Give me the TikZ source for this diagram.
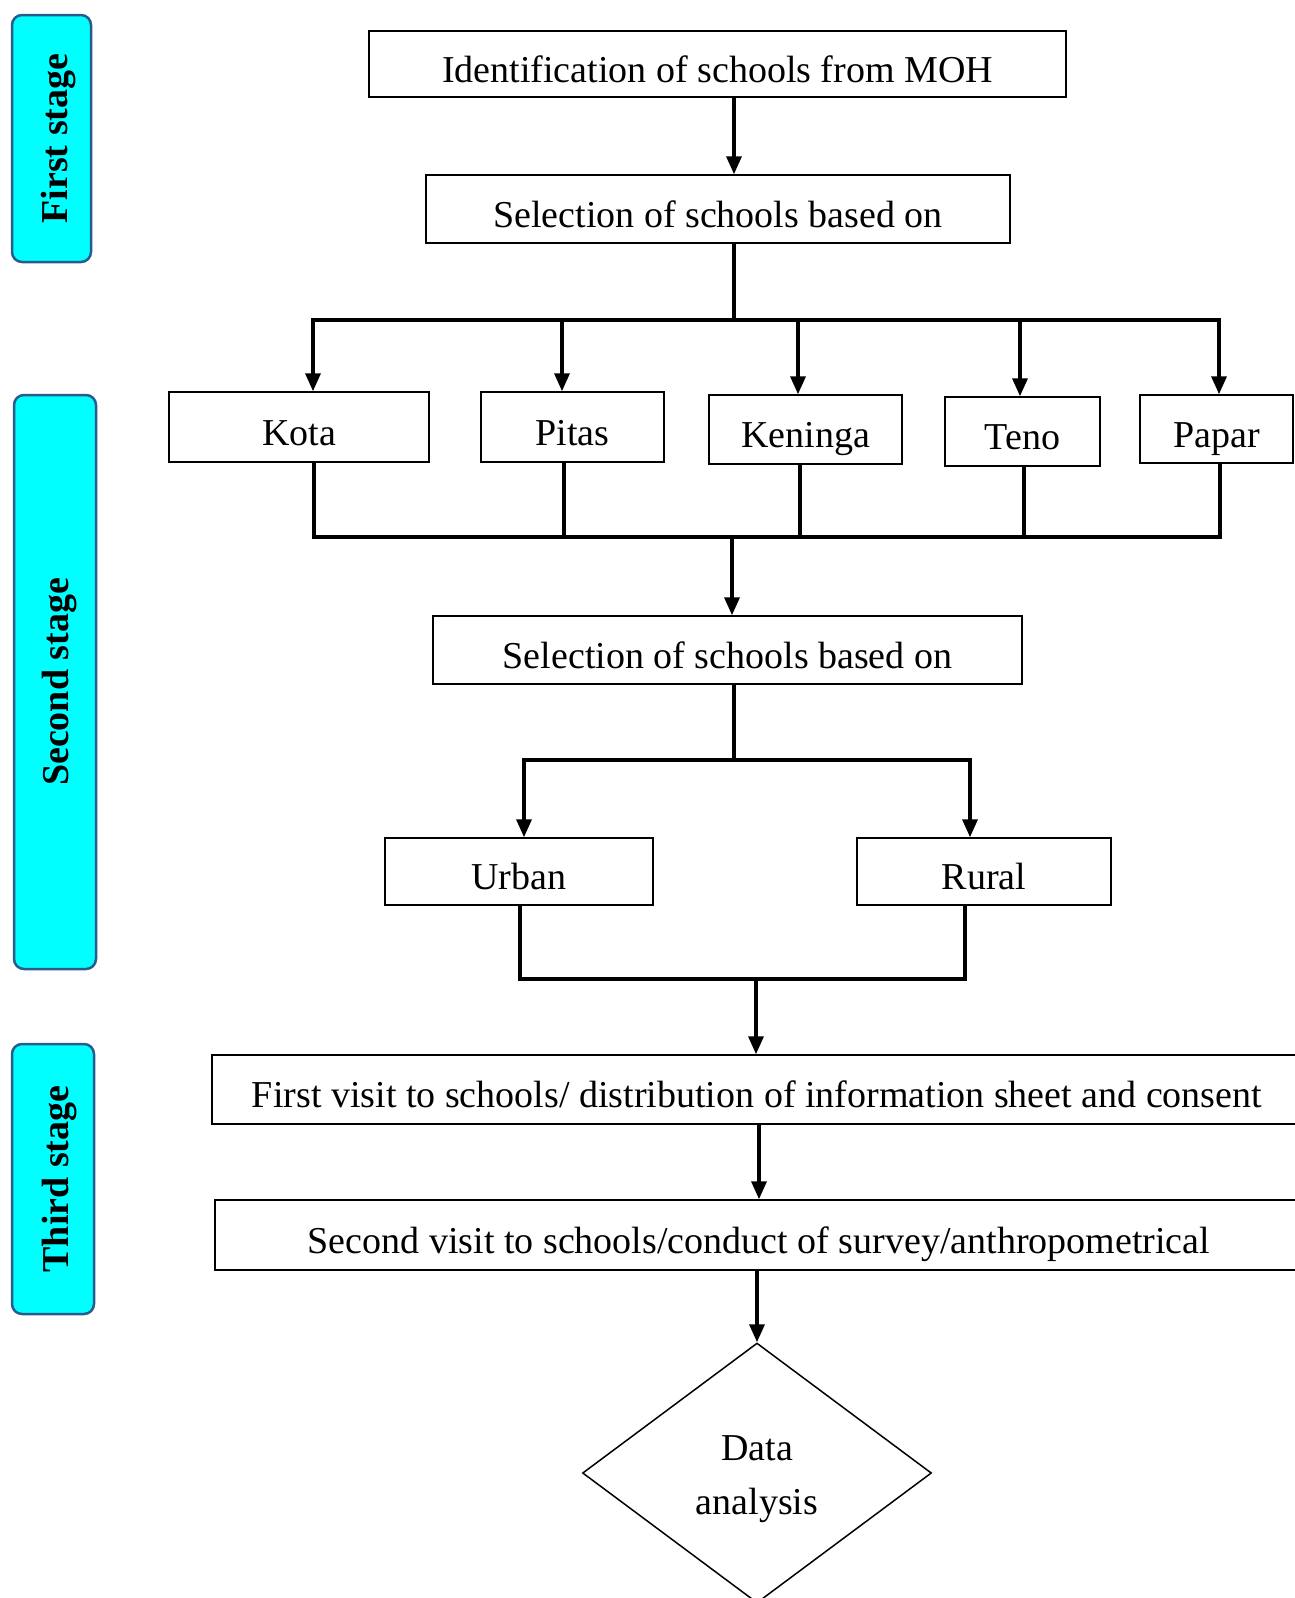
\documentclass[tikz,border=0pt]{standalone}
\usepackage{fontspec}
\setmainfont{Liberation Serif}
\usetikzlibrary{arrows.meta,shapes.geometric}
\definecolor{stageblue}{RGB}{41,92,140}
\definecolor{stagefill}{RGB}{0,255,255}
\begin{document}
\begin{tikzpicture}[x=1pt,y=-1pt,
  box/.style={draw, line width=1.5pt, inner sep=0pt, text height=36pt, text depth=0pt, font=\fontsize{38}{44}\selectfont},
  stagebox/.style={draw=stageblue, fill=stagefill, rounded corners=10pt, line width=2.5pt, inner sep=0pt, rotate=90, text depth=0pt, font=\bfseries\fontsize{38}{44}\selectfont},
  conn/.style={line width=3.5pt},
  arr/.style={conn, -{Triangle[length=18pt,width=15pt]}}]
\useasboundingbox (0,0) rectangle (1295,1598);
\clip (0,0) rectangle (1295,1598);
% stage labels
\node[stagebox, text height=31pt, minimum width=247pt, minimum height=79pt] (s1) at (51.5,138.5) {First stage};
\node[stagebox, text height=27pt, minimum width=574pt, minimum height=82pt] (s2) at (55,682) {Second stage};
\node[stagebox, text height=30pt, minimum width=270pt, minimum height=82pt] (s3) at (53,1179) {Third stage};
% boxes
\node[box, minimum width=697pt, minimum height=66pt] (b1) at (717.5,64) {Identification of schools from MOH};
\node[box, minimum width=584pt, minimum height=68pt] (b2) at (718,209) {Selection of schools based on};
\node[box, minimum width=260pt, minimum height=70pt] (kota) at (299,427) {Kota};
\node[box, minimum width=183pt, minimum height=70pt] (pitas) at (572.5,427) {Pitas};
\node[box, minimum width=193pt, minimum height=69pt] (keninga) at (805.5,429.5) {Keninga};
\node[box, minimum width=155pt, minimum height=69pt] (teno) at (1022.5,431.5) {Teno};
\node[box, minimum width=153pt, minimum height=68pt] (papar) at (1216.5,429) {Papar};
\node[box, minimum width=589pt, minimum height=68pt] (b3) at (727.5,650) {Selection of schools based on};
\node[box, minimum width=268pt, minimum height=67pt] (urban) at (519,871.5) {Urban};
\node[box, minimum width=254pt, minimum height=67pt] (rural) at (984,871.5) {Rural};
\node[box, minimum width=1090pt, minimum height=69pt] (v1) at (757,1089.5) {First visit to schools/ distribution of information sheet and consent};
\node[box, minimum width=1088pt, minimum height=70pt] (v2) at (759,1235) {Second visit to schools/conduct of survey/anthropometrical};
\node[draw, diamond, line width=1.5pt, minimum width=349pt, minimum height=260pt, aspect=1.34, inner sep=0pt, align=center, font=\fontsize{38}{54}\selectfont] (da) at (757,1473) {\rule{0pt}{38pt}Data\\analysis};
% connectors
\draw[arr] (734,0 |- b1.south) -- (734,0 |- b2.north);
\coordinate (j1) at (734,320);
\coordinate (l1) at (313,320);
\coordinate (r1) at (1219,320);
\draw[conn] (734,0 |- b2.south) -- (j1);
\draw[conn] ([xshift=-1.75pt]l1) -- ([xshift=1.75pt]r1);
\foreach \n/\x in {kota/313, pitas/562, keninga/798, teno/1020, papar/1219}
  \draw[arr] (\x,320) -- (\x,0 |- \n.north);
\coordinate (l2) at (314,537);
\coordinate (r2) at (1220,537);
\foreach \n/\x in {kota/314, pitas/564, keninga/800, teno/1024, papar/1220}
  \draw[conn] (\x,0 |- \n.south) -- (\x,537);
\draw[conn] ([xshift=-1.75pt]l2) -- ([xshift=1.75pt]r2);
\draw[arr] (732,537) -- (732,0 |- b3.north);
\coordinate (j3) at (734,760);
\draw[conn] (734,0 |- b3.south) -- (j3);
\draw[conn] ([xshift=-1.75pt]524,760) -- ([xshift=1.75pt]970,760);
\draw[arr] (524,760) -- (524,0 |- urban.north);
\draw[arr] (970,760) -- (970,0 |- rural.north);
\draw[conn] (520,0 |- urban.south) -- (520,979);
\draw[conn] (965,0 |- rural.south) -- (965,979);
\draw[conn] ([xshift=-1.75pt]520,979) -- ([xshift=1.75pt]965,979);
\draw[arr] (756,979) -- (756,0 |- v1.north);
\draw[arr] (759,0 |- v1.south) -- (759,0 |- v2.north);
\draw[arr] (757,0 |- v2.south) -- (da.north);
\end{tikzpicture}
\end{document}
